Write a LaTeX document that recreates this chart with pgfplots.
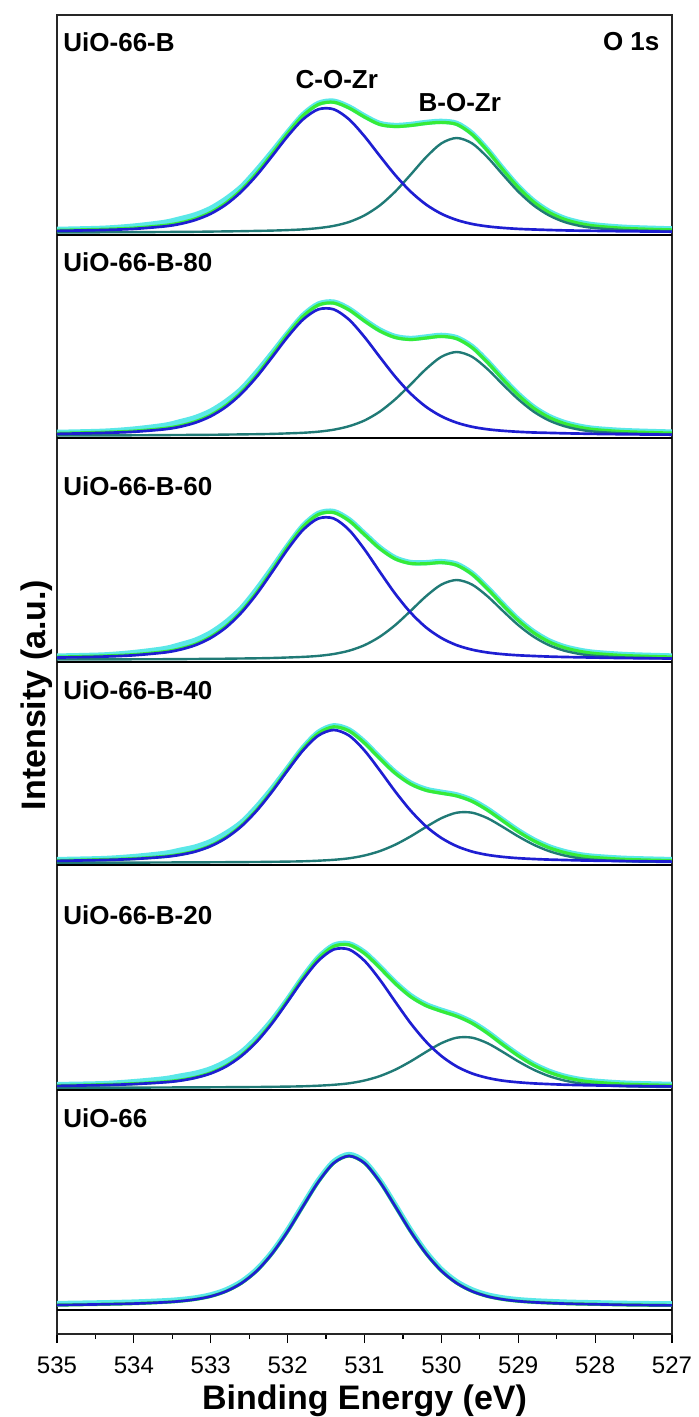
\documentclass[border=0pt]{standalone}
\usepackage{fontspec}
\setmainfont{Liberation Sans}
\usepackage{pgfplots}
\pgfplotsset{compat=1.18}
\usepackage{pgfplotstable}

\definecolor{fitblue}{RGB}{30,30,210}
\definecolor{fitteal}{RGB}{32,122,118}
\definecolor{fitgreen}{RGB}{55,235,55}
\definecolor{rawcyan}{RGB}{90,232,232}

% columns: binding energy, C-O-Zr component, B-O-Zr component, envelope, raw data (heights above each panel baseline)
\pgfplotstableread{
x B T E D
535.0 4.1 2.5 4.6 5.6
534.4 5.0 2.7 5.7 6.7
534.0 6.1 2.8 6.9 8.9
533.6 8.6 3.0 9.6 12.6
533.4 11.0 3.1 12.1 16.1
533.2 15.0 3.2 16.2 20.2
533.0 21.2 3.4 22.6 26.6
532.8 30.5 3.6 32.1 36.1
532.6 43.4 3.8 45.2 48.2
532.4 59.9 4.1 62.0 65.0
532.2 79.0 4.4 81.4 83.4
532.0 98.7 4.9 101.6 102.6
531.8 115.6 5.6 119.3 120.3
531.6 125.7 6.9 130.6 131.6
531.4 125.7 9.1 132.8 133.8
531.2 115.6 13.0 127.0 128.0
531.0 98.7 19.6 118.0 119.0
530.8 79.0 29.6 110.5 111.5
530.6 59.9 43.4 108.5 109.5
530.4 43.4 60.3 109.5 110.5
530.2 30.5 77.7 111.5 112.5
530.0 21.2 91.6 112.6 113.6
529.8 15.0 97.0 110.6 111.6
529.6 11.0 91.6 100.6 101.6
529.4 8.6 77.7 84.3 85.3
529.2 7.1 60.3 65.3 66.3
529.0 6.1 43.4 47.6 48.6
528.8 5.5 29.6 33.1 34.1
528.6 5.0 19.6 22.6 23.6
528.4 4.6 13.0 15.7 16.7
528.2 4.3 9.1 11.5 12.5
528.0 4.1 6.9 9.0 10.0
527.6 3.7 4.9 6.6 7.6
527.0 3.3 3.8 5.1 6.1
}\Pone

\pgfplotstableread{
x B T E D
535.0 4.1 2.5 4.6 5.6
534.4 5.1 2.6 5.7 6.7
534.0 6.2 2.7 6.9 8.9
533.6 8.7 2.9 9.6 12.6
533.4 11.2 3.0 12.2 16.2
533.2 15.3 3.1 16.4 20.4
533.0 21.7 3.2 22.9 26.9
532.8 31.2 3.4 32.6 36.6
532.6 44.4 3.6 46.0 49.0
532.4 61.3 3.8 63.1 66.1
532.2 80.9 4.1 83.0 85.0
532.0 101.0 4.6 103.6 104.6
531.8 118.3 5.2 121.5 122.5
531.6 128.6 6.3 132.9 133.9
531.4 128.6 8.3 134.9 135.9
531.2 118.3 11.8 128.1 129.1
531.0 101.0 17.5 117.0 118.0
530.8 80.9 26.4 107.0 108.0
530.6 61.3 38.7 100.5 101.5
530.4 44.4 53.5 98.5 99.5
530.2 31.2 68.9 100.0 101.0
530.0 21.7 81.2 101.6 102.6
529.8 15.3 86.0 99.3 100.3
529.6 11.2 81.2 90.4 91.4
529.4 8.7 68.9 75.6 76.6
529.2 7.2 53.5 58.7 59.7
529.0 6.2 38.7 42.9 43.9
528.8 5.5 26.4 29.9 30.9
528.6 5.1 17.5 20.6 21.6
528.4 4.7 11.8 14.5 15.5
528.2 4.4 8.3 10.7 11.7
528.0 4.1 6.3 8.4 9.4
527.6 3.7 4.6 6.3 7.3
527.0 3.3 3.6 4.9 5.9
}\Ptwo

\pgfplotstableread{
x B T E D
535.0 4.4 2.5 4.9 5.9
534.4 5.4 2.6 6.0 7.0
534.0 6.7 2.7 7.4 9.4
533.6 9.5 2.8 10.3 13.3
533.4 12.3 2.9 13.2 17.2
533.2 16.8 3.0 17.8 21.8
533.0 24.0 3.2 25.2 29.2
532.8 34.6 3.3 35.9 39.9
532.6 49.4 3.5 50.9 53.9
532.4 68.2 3.7 69.9 72.9
532.2 90.1 4.0 92.1 94.1
532.0 112.6 4.5 115.1 116.1
531.8 132.0 5.1 135.1 136.1
531.6 143.5 6.1 147.6 148.6
531.4 143.5 8.0 149.5 150.5
531.2 132.0 11.3 141.3 142.3
531.0 112.6 16.8 127.4 128.4
530.8 90.1 25.3 113.4 114.4
530.6 68.2 36.9 103.1 104.1
530.4 49.4 51.1 98.5 99.5
530.2 34.6 65.7 98.3 99.3
530.0 24.0 77.4 99.4 100.4
529.8 16.8 82.0 96.8 97.8
529.6 12.3 77.4 87.7 88.7
529.4 9.5 65.7 73.2 74.2
529.2 7.8 51.1 56.9 57.9
529.0 6.7 36.9 41.6 42.6
528.8 6.0 25.3 29.3 30.3
528.6 5.4 16.8 20.2 21.2
528.4 5.0 11.3 14.3 15.3
528.2 4.7 8.0 10.7 11.7
528.0 4.4 6.1 8.5 9.5
527.6 3.9 4.5 6.4 7.4
527.0 3.5 3.5 5.0 6.0
}\Pthree

\pgfplotstableread{
x B T E D
535.0 4.1 2.3 4.4 5.4
534.4 5.0 2.4 5.4 6.4
534.0 6.0 2.4 6.4 8.4
533.6 8.1 2.5 8.6 11.6
533.4 10.1 2.6 10.7 14.7
533.2 13.4 2.6 14.0 18.0
533.0 18.8 2.7 19.5 23.5
532.8 27.0 2.8 27.8 31.8
532.6 38.7 2.9 39.6 42.6
532.4 54.4 3.0 55.4 58.4
532.2 73.5 3.2 74.7 76.7
532.0 94.5 3.4 95.9 96.9
531.8 114.5 3.7 116.2 117.2
531.6 129.4 4.3 131.7 132.7
531.4 135.0 5.2 138.2 139.2
531.2 129.4 6.7 134.1 135.1
531.0 114.5 9.5 122.0 123.0
530.8 94.5 13.9 106.4 107.4
530.6 73.5 20.3 91.8 92.8
530.4 54.4 28.6 81.0 82.0
530.2 38.7 38.0 74.7 75.7
530.0 27.0 46.8 71.8 72.8
529.8 18.8 52.3 69.1 70.1
529.6 13.4 52.3 63.7 64.7
529.4 10.1 46.8 54.9 55.9
529.2 8.1 38.0 44.1 45.1
529.0 6.8 28.6 33.4 34.4
528.8 6.0 20.3 24.3 25.3
528.6 5.4 13.9 17.3 18.3
528.4 5.0 9.5 12.5 13.5
528.2 4.6 6.7 9.3 10.3
528.0 4.3 5.2 7.5 8.5
527.6 3.9 3.7 5.6 6.6
527.0 3.4 3.0 4.4 5.4
}\Pfour

\pgfplotstableread{
x B T E D
535.0 4.1 2.3 4.4 5.4
534.4 4.9 2.4 5.3 6.3
534.0 5.9 2.4 6.3 8.3
533.6 7.7 2.5 8.2 11.2
533.4 9.3 2.6 9.9 13.9
533.2 12.1 2.6 12.7 16.7
533.0 16.5 2.7 17.2 21.2
532.8 23.5 2.8 24.3 28.3
532.6 34.0 2.9 34.9 37.9
532.4 48.4 3.0 49.4 52.4
532.2 66.8 3.2 68.0 70.0
532.0 88.3 3.4 89.7 90.7
531.8 110.3 3.7 112.0 113.0
531.6 129.2 4.3 131.5 132.5
531.4 140.5 5.2 143.7 144.7
531.2 140.5 6.7 145.2 146.2
531.0 129.2 9.5 136.7 137.7
530.8 110.3 13.9 122.2 123.2
530.6 88.3 20.3 106.6 107.6
530.4 66.8 28.6 93.4 94.4
530.2 48.4 38.0 84.4 85.4
530.0 34.0 46.8 78.8 79.8
529.8 23.5 52.3 73.8 74.8
529.6 16.5 52.3 66.8 67.8
529.4 12.1 46.8 56.9 57.9
529.2 9.3 38.0 45.3 46.3
529.0 7.7 28.6 34.3 35.3
528.8 6.6 20.3 24.9 25.9
528.6 5.9 13.9 17.8 18.8
528.4 5.3 9.5 12.8 13.8
528.2 4.9 6.7 9.6 10.6
528.0 4.6 5.2 7.8 8.8
527.6 4.1 3.7 5.8 6.8
527.0 3.6 3.0 4.6 5.6
}\Pfive

\pgfplotstableread{
x B E D
535.0 4.9 4.9 6.4
534.4 5.7 5.7 7.2
534.0 6.4 6.4 7.9
533.6 7.7 7.7 9.2
533.4 8.8 8.8 10.3
533.2 10.6 10.6 12.1
533.0 13.6 13.6 15.1
532.8 18.7 18.7 20.2
532.6 26.8 26.8 28.3
532.4 39.1 39.1 40.6
532.2 56.5 56.5 58.0
532.0 78.5 78.5 80.0
531.8 103.6 103.6 105.1
531.6 128.1 128.1 129.6
531.4 146.9 146.9 148.4
531.2 154.0 154.0 155.5
531.0 146.9 146.9 148.4
530.8 128.1 128.1 129.6
530.6 103.6 103.6 105.1
530.4 78.5 78.5 80.0
530.2 56.5 56.5 58.0
530.0 39.1 39.1 40.6
529.8 26.8 26.8 28.3
529.6 18.7 18.7 20.2
529.4 13.6 13.6 15.1
529.2 10.6 10.6 12.1
529.0 8.8 8.8 10.3
528.8 7.7 7.7 9.2
528.6 7.0 7.0 8.5
528.4 6.4 6.4 7.9
528.2 6.0 6.0 7.5
528.0 5.7 5.7 7.2
527.6 5.1 5.1 6.6
527.0 4.6 4.6 6.1
}\Psix

\newcommand{\fitpanel}[2]{%
  \addplot[black, line width=1.2pt] table[x=x, y expr=#2] {#1};
  \addplot[rawcyan, line width=4pt, smooth] table[x=x, y expr=\thisrow{D}+#2] {#1};
  \addplot[fitgreen, line width=2.4pt, smooth] table[x=x, y expr=\thisrow{E}+#2] {#1};
  \addplot[fitteal, line width=1.8pt, smooth] table[x=x, y expr=\thisrow{T}+#2] {#1};
  \addplot[fitblue, line width=2pt, smooth] table[x=x, y expr=\thisrow{B}+#2] {#1};
}

\begin{document}
\begin{tikzpicture}
\begin{axis}[
  name=ax,
  scale only axis,
  width=461.25pt, height=989.25pt,
  xmin=527, xmax=535, x dir=reverse,
  ymin=0, ymax=1319,
  xtick={527,528,...,535},
  minor x tick num=1,
  ytick=\empty,
  xtick pos=left,
  tick align=outside,
  major tick length=6.75pt,
  minor tick length=3.75pt,
  every tick/.style={black, line width=0.9pt},
  axis line style={black!85, line width=1pt},
  /pgf/number format/assume math mode=true,
  tick label style={font=\fontsize{18}{20}\selectfont},
  xticklabel style={yshift=-7pt},
  xlabel={Binding Energy (eV)},
  xlabel style={font=\fontsize{25.5}{28}\selectfont\bfseries, yshift=-1pt},
  ylabel={Intensity (a.u.)},
  ylabel style={font=\fontsize{25.5}{28}\selectfont\bfseries, at={(axis description cs:0,0.4845)}, anchor=south},
  every axis plot post/.append style={line join=round},
]
\fitpanel{\Pone}{1099}
\fitpanel{\Ptwo}{896}
\fitpanel{\Pthree}{672}
\fitpanel{\Pfour}{469}
\fitpanel{\Pfive}{244}
\addplot[black, line width=1.2pt] table[x=x, y expr=24] {\Psix};
\addplot[rawcyan, line width=4pt, smooth] table[x=x, y expr=\thisrow{D}+24] {\Psix};
\addplot[fitgreen, line width=2.4pt, smooth] table[x=x, y expr=\thisrow{E}+24] {\Psix};
\addplot[fitblue, line width=2pt, smooth] table[x=x, y expr=\thisrow{B}+24] {\Psix};

\begin{scope}[every node/.style={font=\fontsize{19.5}{22}\selectfont\bfseries, inner sep=0pt}]
\node[anchor=west] at (axis cs:534.92,1292) {UiO-66-B};
\node[anchor=west] at (axis cs:534.92,1072) {UiO-66-B-80};
\node[anchor=west] at (axis cs:534.92,848) {UiO-66-B-60};
\node[anchor=west] at (axis cs:534.92,644) {UiO-66-B-40};
\node[anchor=west] at (axis cs:534.92,419) {UiO-66-B-20};
\node[anchor=west] at (axis cs:534.92,216) {UiO-66};
\node[anchor=east] at (axis cs:527.16,1292) {O 1s};
\node at (axis cs:531.36,1254) {C-O-Zr};
\node at (axis cs:529.76,1231) {B-O-Zr};
\end{scope}
\end{axis}
\pgfresetboundingbox
\path[use as bounding box] ([xshift=-42.75pt,yshift=-62.25pt]ax.south west) rectangle ([xshift=20.25pt,yshift=11.25pt]ax.north east);
\end{tikzpicture}
\end{document}
